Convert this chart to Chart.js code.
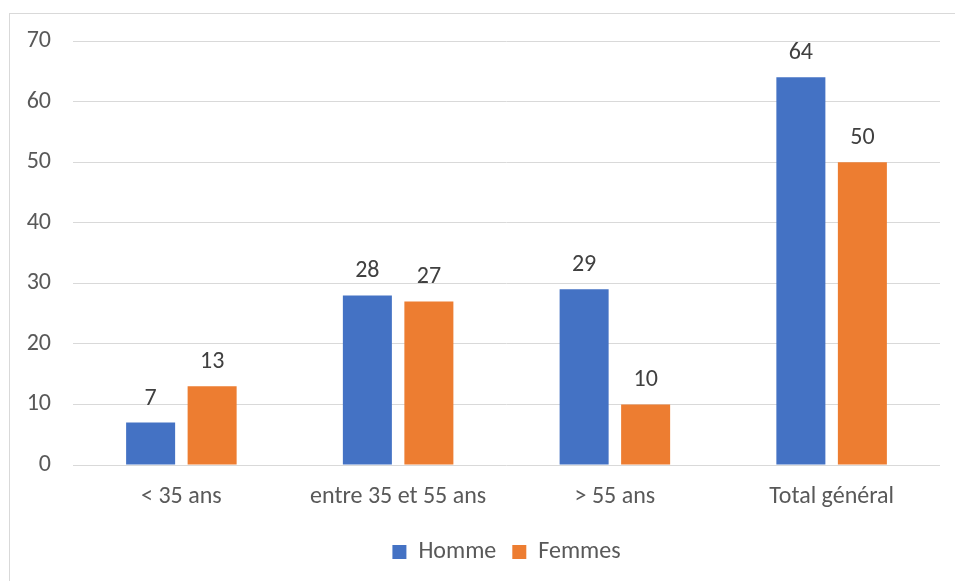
<!DOCTYPE html>
<html><head><meta charset="utf-8">
<script src="https://cdn.jsdelivr.net/npm/chart.js@4/dist/chart.umd.min.js"></script>
<style>
html,body{margin:0;padding:0;background:#fff;overflow:hidden;}
#frame{position:absolute;left:9px;top:13px;width:980px;height:620px;border:1px solid #d9d9d9;box-sizing:border-box;}
#wrap{position:absolute;left:0;top:0;width:955px;height:581px;}
</style></head>
<body>
<div id="frame"></div>
<div id="wrap"><canvas id="c" width="955" height="581"></canvas></div>
<script>
const categories = ["< 35 ans", "entre 35 et 55 ans", "> 55 ans", "Total général"];
const homme = [7, 28, 29, 64];
const femmes = [13, 27, 10, 50];
const yTicks = [0, 10, 20, 30, 40, 50, 60, 70];

const FONT = "Carlito, Lato, 'Liberation Sans', sans-serif";
const FS = 24;

const labelPlugin = {
  id: 'valueLabels',
  afterDatasetsDraw(chart) {
    const ctx = chart.ctx;
    ctx.save();
    ctx.font = FS + "px " + FONT;
    ctx.fillStyle = "#404040";
    ctx.textAlign = "center";
    ctx.textBaseline = "alphabetic";
    chart.data.datasets.forEach((ds, i) => {
      chart.getDatasetMeta(i).data.forEach((bar, j) => {
        ctx.fillText(String(ds.data[j]), bar.x, bar.y - 18);
      });
    });
    ctx.restore();
  }
};

new Chart(document.getElementById('c'), {
  type: 'bar',
  data: {
    labels: categories,
    datasets: [
      {label: "Homme", data: homme, backgroundColor: "#4472C4", categoryPercentage: 0.5675, barPercentage: 0.797},
      {label: "Femmes", data: femmes, backgroundColor: "#ED7D31", categoryPercentage: 0.5675, barPercentage: 0.797}
    ]
  },
  options: {
    responsive: false,
    animation: false,
    layout: {padding: {top: 41, right: 15, left: 0, bottom: 7}},
    plugins: {
      tooltip: {enabled: false},
      legend: {
        position: 'bottom',
        fullSize: false,
        labels: {
          boxWidth: 14, boxHeight: 14, padding: 16,
          color: "#595959",
          font: {family: FONT, size: FS}
        }
      }
    },
    scales: {
      x: {
        grid: {display: false},
        border: {display: false},
        ticks: {color: "#595959", font: {family: FONT, size: FS}, padding: 10, maxRotation: 0},
        afterFit(s) { s.height = 59; }
      },
      y: {
        min: 0, max: 70,
        afterBuildTicks(s) { s.ticks = yTicks.map(v => ({value: v})); },
        grid: {color: "#d9d9d9", lineWidth: 1, drawTicks: false},
        border: {display: false},
        ticks: {color: "#595959", font: {family: FONT, size: FS}, padding: 22},
        afterFit(s) { s.width = 73; }
      }
    }
  },
  plugins: [labelPlugin]
});
</script>
</body></html>
